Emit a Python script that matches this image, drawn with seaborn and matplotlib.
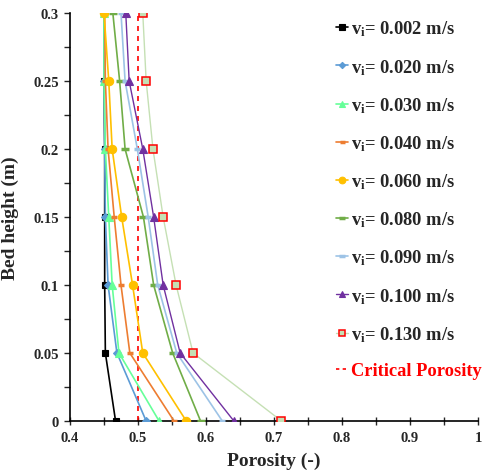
import matplotlib
matplotlib.use("Agg")
import matplotlib.pyplot as plt
import seaborn as sns
import numpy as np

# Bed height positions (m)
heights = [0.0, 0.05, 0.10, 0.15, 0.20, 0.25, 0.30]

# Porosity profiles for each inlet velocity
por_0002 = [0.467, 0.452, 0.451, 0.451, 0.451, 0.450, 0.450]
por_0020 = [0.512, 0.469, 0.456, 0.452, 0.451, 0.450, 0.450]
por_0030 = [0.531, 0.472, 0.462, 0.457, 0.452, 0.450, 0.450]
por_0040 = [0.553, 0.488, 0.475, 0.465, 0.456, 0.452, 0.451]
por_0060 = [0.571, 0.507, 0.492, 0.476, 0.462, 0.457, 0.450]
por_0080 = [0.592, 0.551, 0.523, 0.508, 0.481, 0.473, 0.463]
por_0090 = [0.624, 0.557, 0.529, 0.515, 0.499, 0.481, 0.475]
por_0100 = [0.641, 0.562, 0.537, 0.523, 0.507, 0.487, 0.482]
por_0130 = [0.711, 0.581, 0.556, 0.537, 0.522, 0.512, 0.507]

velocities = ["0.002", "0.020", "0.030", "0.040", "0.060", "0.080", "0.090", "0.100", "0.130"]

# Critical porosity line
crit_x = [0.5, 0.5]
crit_y = [0.0, 0.3]

x_ticks = [0.4, 0.5, 0.6, 0.7, 0.8, 0.9, 1.0]
x_ticklabels = ["0.4", "0.5", "0.6", "0.7", "0.8", "0.9", "1"]
y_ticks = [0.0, 0.05, 0.10, 0.15, 0.20, 0.25, 0.30]
y_ticklabels = ["0", "0.05", "0.1", "0.15", "0.2", "0.25", "0.3"]

sns.set_style("white")
plt.rcParams["font.family"] = ["Liberation Serif", "DejaVu Serif"]
plt.rcParams["font.weight"] = "bold"
plt.rcParams["mathtext.fontset"] = "custom"
plt.rcParams["mathtext.rm"] = "Liberation Serif:bold"
plt.rcParams["mathtext.bf"] = "Liberation Serif:bold"
plt.rcParams["mathtext.it"] = "Liberation Serif:bold"

fig = plt.figure(figsize=(4.87, 4.77), dpi=100)
ax = fig.add_axes([70 / 487, 1 - 422 / 477, 408 / 487, 408 / 477])

styles = [
    dict(data=por_0002, color="#000000", marker="s", ms=5.0, mfc="#000000", mec="#000000", mew=0.8, lw=1.2),
    dict(data=por_0020, color="#5B9BD5", marker="D", ms=4.0, mfc="#5B9BD5", mec="#5B9BD5", mew=0.8, lw=1.2),
    dict(data=por_0030, color="#66FF99", marker="^", ms=5.5, mfc="#66FF99", mec="#66FF99", mew=0.8, lw=1.2),
    dict(data=por_0040, color="#ED7D31", marker="_", ms=4.5, mfc="#ED7D31", mec="#ED7D31", mew=2.5, lw=1.2),
    dict(data=por_0060, color="#FFC000", marker="o", ms=6.0, mfc="#FFC000", mec="#FFC000", mew=0.8, lw=1.2),
    dict(data=por_0080, color="#70AD47", marker="_", ms=6.0, mfc="#70AD47", mec="#70AD47", mew=2.5, lw=1.2),
    dict(data=por_0090, color="#9DC3E6", marker="_", ms=5.0, mfc="#9DC3E6", mec="#9DC3E6", mew=2.5, lw=1.2),
    dict(data=por_0100, color="#7030A0", marker="^", ms=6.0, mfc="#7030A0", mec="#7030A0", mew=0.8, lw=1.0),
    dict(data=por_0130, color="#C5E0B4", marker="s", ms=6.0, mfc="#C5E0B4", mec="#FF0000", mew=1.1, lw=1.0),
]

handles = []
labels = []
for vel, st in zip(velocities, styles):
    sns.lineplot(x=st["data"], y=heights, sort=False, estimator=None, ax=ax,
                 color=st["color"], lw=st["lw"], marker=st["marker"], markersize=st["ms"],
                 markerfacecolor=st["mfc"], markeredgecolor=st["mec"], markeredgewidth=st["mew"],
                 zorder=3)
    h, = ax.plot([], [], color=st["color"], lw=st["lw"], marker=st["marker"],
                 markersize=st["ms"] * 0.8, markerfacecolor=st["mfc"],
                 markeredgecolor=st["mec"], markeredgewidth=st["mew"])
    handles.append(h)
    labels.append(r"v$_{\mathrm{i}}$= " + vel + " m/s")

crit, = ax.plot(crit_x, crit_y, color="#FF0000", lw=1.2, ls=(0, (3, 3)), zorder=2)
crit_h, = ax.plot([], [], color="#FF0000", lw=1.2, ls=(0, (2, 2)))
handles.append(crit_h)
labels.append("Critical Porosity")

ax.set_xlim(0.4, 1.0)
ax.set_ylim(0.0, 0.3)
ax.set_xticks(x_ticks)
ax.set_xticklabels(x_ticklabels)
ax.set_yticks(y_ticks)
ax.set_yticklabels(y_ticklabels)
ax.set_xticks(np.arange(0.45, 1.0, 0.1), minor=True)
ax.set_yticks(np.arange(0.025, 0.3, 0.05), minor=True)

ax.tick_params(axis="x", which="both", direction="inout", length=6, width=1.0,
               bottom=True, labelsize=10.5, pad=4)
ax.tick_params(axis="y", which="both", direction="out", length=4, width=1.0,
               left=True, labelsize=10.5, pad=4)
for lab in ax.get_xticklabels() + ax.get_yticklabels():
    lab.set_fontweight("bold")

for side in ["top", "right"]:
    ax.spines[side].set_visible(False)
for side in ["left", "bottom"]:
    ax.spines[side].set_color("black")
    ax.spines[side].set_linewidth(1.2)

ax.set_xlabel("Porosity (-)", fontsize=14, fontweight="bold", labelpad=6)
ax.set_ylabel("Bed height (m)", fontsize=14, fontweight="bold", labelpad=10)

leg = ax.legend(handles, labels, loc="upper left", bbox_to_anchor=(332 / 487, 1 - 16 / 477),
                bbox_transform=fig.transFigure, frameon=False,
                handlelength=0.65, handletextpad=0.2, labelspacing=1.0,
                borderaxespad=0, borderpad=0.2, prop={"weight": "bold", "size": 13.3})
for txt in leg.get_texts():
    if txt.get_text() == "Critical Porosity":
        txt.set_color("#FF0000")

fig.savefig("out.png", dpi=100)
